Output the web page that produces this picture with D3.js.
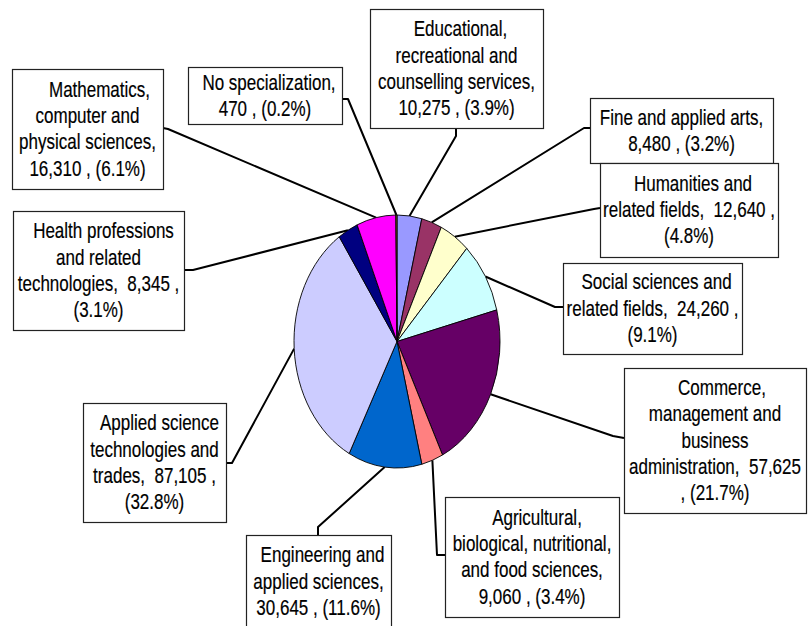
<!DOCTYPE html>
<html>
<head>
<meta charset="utf-8">
<script src="https://cdn.jsdelivr.net/npm/d3@7"></script>
<style>
  html, body { margin: 0; padding: 0; background: #fff; }
  svg { display: block; }
  text { font-family: "Liberation Sans", Arial, sans-serif; font-size: 17px; fill: #000; white-space: pre; stroke: #000; stroke-width: 0.15px; }
</style>
</head>
<body>
<svg id="chart" width="809" height="626"></svg>
<script>
// ---- data ----
const categories = [
  "Educational, recreational and counselling services",
  "Fine and applied arts",
  "Humanities and related fields",
  "Social sciences and related fields",
  "Commerce, management and business administration",
  "Agricultural, biological, nutritional, and food sciences",
  "Engineering and applied sciences",
  "Applied science technologies and trades",
  "Health professions and related technologies",
  "Mathematics, computer and physical sciences",
  "No specialization"
];
const values = [10275, 8480, 12640, 24260, 57625, 9060, 30645, 87105, 8345, 16310, 470];
const colors = ["#9999FF", "#993366", "#FFFFCC", "#CCFFFF", "#660066", "#FF8080",
                "#0066CC", "#CCCCFF", "#000080", "#FF00FF", "#B08A10"];
// label text as wrapped in the original ({v} = value, {p} = percent)
const labelTemplates = [
  "Educational,\nrecreational and\ncounselling services,\n{v} , ({p})",
  "Fine and applied arts,\n{v} , ({p})",
  "Humanities and\nrelated fields,  {v} ,\n({p})",
  "Social sciences and\nrelated fields,  {v} ,\n({p})",
  "Commerce,\nmanagement and\nbusiness\nadministration,  {v}\n, ({p})",
  "Agricultural,\nbiological, nutritional,\nand food sciences,\n{v} , ({p})",
  "Engineering and\napplied sciences,\n{v} , ({p})",
  "Applied science\ntechnologies and\ntrades,  {v} ,\n({p})",
  "Health professions\nand related\ntechnologies,  {v} ,\n({p})",
  "Mathematics,\ncomputer and\nphysical sciences,\n{v} , ({p})",
  "No specialization,\n{v} , ({p})"
];

// ---- layout (label boxes: x, y, w, h; elbow point; anchor on box; first-line shift) ----
const labelLayout = [
  {box: [370, 9, 173, 119],   elbow: [456, 136], anchor: [456, 128], shift: 4},
  {box: [590, 98, 183, 65],   elbow: [584, 128], anchor: [590, 128], shift: 0},
  {box: [600, 163, 178, 94],  elbow: [594, 209], anchor: [600, 208], shift: 4},
  {box: [563, 263, 179, 91],  elbow: [555, 307], anchor: [563, 307], shift: 4},
  {box: [624, 368, 182, 145], elbow: [613, 436], anchor: [624, 438], shift: 7},
  {box: [445, 497, 174, 120], elbow: [437, 555], anchor: [445, 555], shift: 5},
  {box: [246, 535, 145, 93],  elbow: [318, 527], anchor: [318, 535], shift: 4},
  {box: [83, 403, 143, 119],  elbow: [232, 463], anchor: [226, 463], shift: 5},
  {box: [13, 211, 171, 119],  elbow: [193, 270], anchor: [184, 270], shift: 5},
  {box: [12, 69, 151, 120],   elbow: [168, 129], anchor: [163, 128], shift: 12},
  {box: [188, 67, 154, 57],   elbow: [348, 99],  anchor: [342, 99],  shift: 4}
];

const cx = 397, cy = 341.5, rx = 103, ry = 126.5;
const yScale = ry / rx;
const lineH = 26.3;

const svg = d3.select("#chart");
const total = d3.sum(values);
const fmtV = d3.format(",");
const fmtP = d3.format(".1%");

const pie = d3.pie().sort(null).value(d => d).startAngle(0).endAngle(2 * Math.PI);
const arcs = pie(values);
const arc = d3.arc().innerRadius(0).outerRadius(rx);

// leader lines (under pie)
const leaders = svg.append("g");
arcs.forEach((a, i) => {
  const m = (a.startAngle + a.endAngle) / 2;
  const px = cx + rx * Math.sin(m), py = cy - ry * Math.cos(m);
  const L = labelLayout[i];
  leaders.append("path")
    .attr("d", d3.line()([[px, py], L.elbow, L.anchor]))
    .attr("fill", "none").attr("stroke", "#000").attr("stroke-width", 2)
    .attr("stroke-linejoin", "round");
});

// pie
const g = svg.append("g").attr("transform", `translate(${cx},${cy}) scale(1,${yScale})`);
g.selectAll("path.slice").data(arcs).enter().append("path")
  .attr("class", "slice")
  .attr("d", arc)
  .attr("fill", (d, i) => colors[i])
  .attr("stroke", "#000")
  .attr("stroke-width", 0.9)
  .attr("stroke-linejoin", "round")
  .attr("vector-effect", "non-scaling-stroke");

// labels
const lg = svg.append("g");
arcs.forEach((a, i) => {
  const L = labelLayout[i];
  const [bx, by, bw, bh] = L.box;
  lg.append("rect").attr("x", bx + 0.5).attr("y", by + 0.5).attr("width", bw).attr("height", bh)
    .attr("fill", "#fff").attr("stroke", "#222").attr("stroke-width", 1.2);
  const txt = labelTemplates[i]
    .replace("{v}", fmtV(values[i]))
    .replace("{p}", fmtP(values[i] / total));
  const lines = txt.split("\n");
  const mx = bx + bw / 2, my = by + bh / 2;
  lines.forEach((s, k) => {
    const ly = my + (k - (lines.length - 1) / 2) * lineH;
    lg.append("text")
      .attr("transform", `translate(${mx + (k === 0 ? L.shift : 0)},${ly}) scale(1,1.25)`)
      .attr("text-anchor", "middle")
      .attr("dominant-baseline", "central")
      .text(s);
  });
});
</script>
</body>
</html>
